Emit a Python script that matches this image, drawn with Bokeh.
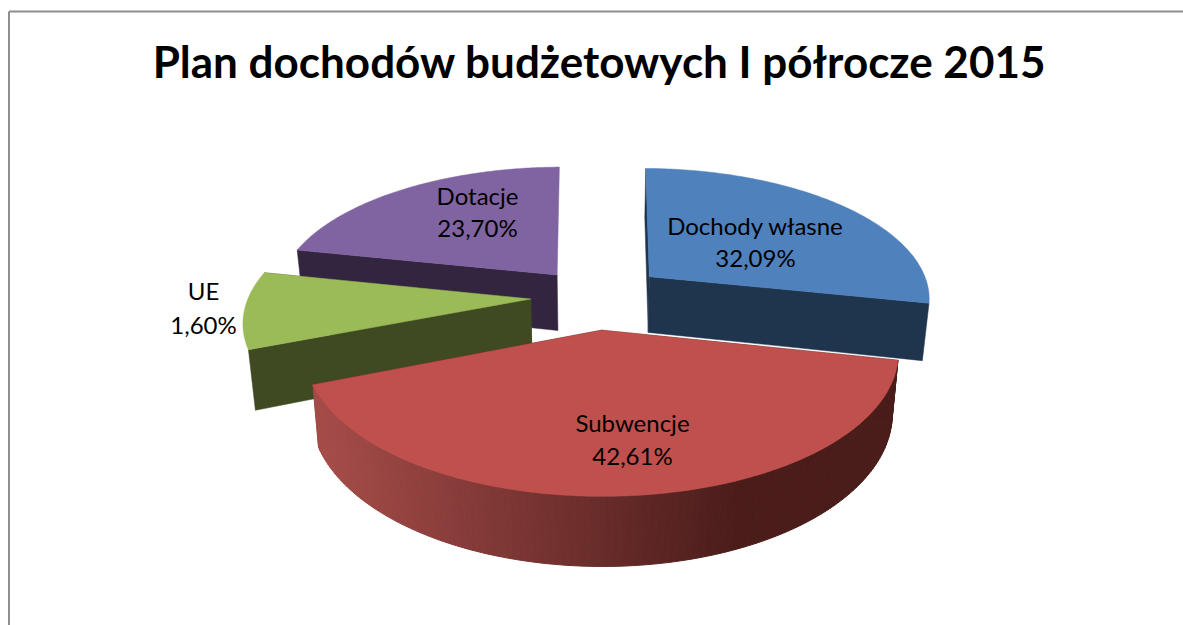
import numpy as np
from bokeh.plotting import figure
from bokeh.models import Range1d
from bokeh.core.properties import value
from bokeh.embed import file_html
from bokeh.resources import INLINE

# --- data ---
TITLE = "Plan dochodów budżetowych I półrocze 2015"
categories = ["Dochody własne", "Subwencje", "UE", "Dotacje"]
label_percent = [32.09, 42.61, 1.60, 23.70]
drawn_share = [28.1, 40.7, 9.3, 21.5]      # percent of the circle as drawn in the picture
explosion = [0.25, 0.25, 0.23, 0.22]

top_colors = ["#4F81BD", "#C0504D", "#9BBB59", "#8064A2"]
side_colors = ["#1F344D", "#4A1C1A", "#3F4A23", "#33253F"]

# --- projection layout ---
CX, CY, R, S, K, DEPTH, TAPER = 595.0, 296.0, 282.0, 130.0, 0.15, 57.0, 0.02
START = np.deg2rad(0.8)
paint_order = [3, 2, 0, 1]
wall_visible = [False, True, False, False]
hidden_faces = {(3, -1)}
label_xy = {0: (755, 225, 257), 1: (632, 422, 455), 2: (203, 290, 324), 3: (477, 195, 227)}
FONT = "Lato"


def project(u, v, depth=0.0):
    w = 1 - K * v
    x = CX + R * u / w
    if depth:
        x = CX + (x - CX) * (1 - TAPER)
    return x, CY + (S * v + depth) / w


def lerp_hex(a, b, t):
    ca = [int(a[i:i + 2], 16) for i in (1, 3, 5)]
    cb = [int(b[i:i + 2], 16) for i in (1, 3, 5)]
    return "#%02x%02x%02x" % tuple(int(round(x + (y - x) * t)) for x, y in zip(ca, cb))


def wall_color(x_mid):
    t = min(max((x_mid - 320) / 420, 0), 1)
    return lerp_hex("#A54C49", side_colors[1], t)


p = figure(width=1183, height=625, output_backend="svg", toolbar_location=None,
           x_range=Range1d(0, 1183), y_range=Range1d(625, 0), min_border=0,
           outline_line_color=None)
p.xaxis.visible = False
p.yaxis.visible = False
p.grid.visible = False

# chart frame
p.multi_line([[8.5, 8.5], [8.5, 1183]], [[625, 11], [11, 11]], line_color="#8E8E8E", line_width=2)

edges = START + np.concatenate([[0.0], np.cumsum(drawn_share)]) / 100.0 * 2 * np.pi

for i in paint_order:
    a0, a1 = edges[i], edges[i + 1]
    mid = (a0 + a1) / 2
    ou, ov = explosion[i] * np.sin(mid), -explosion[i] * np.cos(mid)
    th = np.linspace(a0, a1, 120)
    us = ou + np.sin(th)
    vs = ov - np.cos(th)
    # radial faces
    ax, ay = project(ou, ov)
    axb, ayb = project(ou, ov, DEPTH)
    for k in (0, -1):
        if (i, k) in hidden_faces:
            continue
        cx_, cy_ = project(us[k], vs[k])
        cxb, cyb = project(us[k], vs[k], DEPTH)
        p.patch([ax, cx_, cxb, axb], [ay, cy_, cyb, ayb], fill_color=side_colors[i],
                line_color=side_colors[i], line_width=0.5)
    # outer wall strips
    if wall_visible[i]:
        xs_w, ys_w, cols = [], [], []
        for j in range(len(th) - 1):
            x0, y0 = project(us[j], vs[j])
            x1, y1 = project(us[j + 1], vs[j + 1])
            x2, y2 = project(us[j + 1], vs[j + 1], DEPTH)
            x3, y3 = project(us[j], vs[j], DEPTH)
            xs_w.append([x0, x1, x2, x3])
            ys_w.append([y0, y1, y2, y3])
            cols.append(wall_color((x0 + x1) / 2))
        p.patches(xs_w, ys_w, fill_color=cols, line_color=cols, line_width=1.0)
    # top surface
    tx, ty = project(us, vs)
    p.patch(np.r_[ax, tx], np.r_[ay, ty], fill_color=top_colors[i], line_color=top_colors[i], line_width=0.5)

# labels
tx_, ty_, tt_ = [], [], []
for i, name in enumerate(categories):
    x, y1, y2 = label_xy[i]
    tx_ += [x, x]
    ty_ += [y1, y2]
    tt_ += [name, f"{label_percent[i]:.2f}".replace(".", ",") + "%"]
p.text(tx_, ty_, text=tt_, text_font=value(FONT), text_font_size="24px", text_color="#000000",
       text_align="center", text_baseline="middle")
p.text([599], [60], text=[TITLE], text_font=value(FONT), text_font_style="bold", text_font_size="44px",
       text_color="#000000", text_align="center", text_baseline="middle")

open("out.html", "w").write(file_html(p, INLINE))
